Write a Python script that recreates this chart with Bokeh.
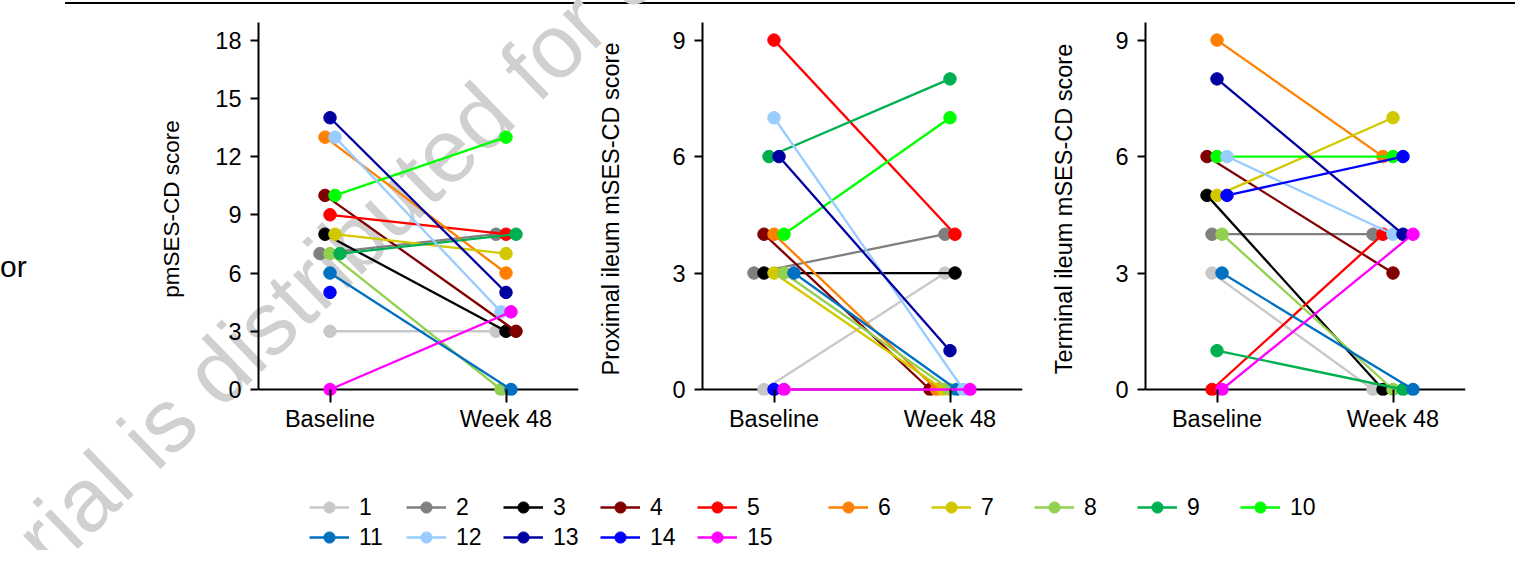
import math
from bokeh.plotting import figure
from bokeh.layouts import row, column
from bokeh.models import Range1d, FixedTicker, Span, Legend, LegendItem, Div
from bokeh.embed import file_html
from bokeh.resources import INLINE

# ---------------- data ----------------
patients = [str(i) for i in range(1, 16)]
timepoints = ["Baseline", "Week 48"]
colors = ["#c8c8c8", "#7f7f7f", "#000000", "#800000", "#ff0000", "#ff8000",
          "#d2c800", "#92d050", "#00b050", "#00ff00", "#0070c0", "#99ccff",
          "#0000a0", "#0000ff", "#ff00ff"]

pm_baseline = [3, 7, 8, 10, 9, 13, 8, 7, 7, 10, 6, 13, 14, 5, 0]
pm_week48 = [3, 8, 3, 3, 8, 6, 7, 0, 8, 13, 0, 4, 5, None, 4]
prox_baseline = [0, 3, 3, 4, 9, 4, 3, 3, 6, 4, 3, 7, 6, 0, 0]
prox_week48 = [3, 4, 3, 0, 4, 0, 0, 0, 8, 7, 0, 0, 1, None, 0]
term_baseline = [3, 4, 5, 6, 0, 9, 5, 4, 1, 6, 3, 6, 8, 5, 0]
term_week48 = [0, 4, 0, 3, 4, 6, 7, 0, 0, 6, 0, 4, 4, 6, 4]

pm_ticks = [0, 3, 6, 9, 12, 15, 18]
segment_ticks = [0, 3, 6, 9]

titles = ["pmSES-CD score", "Proximal ileum mSES-CD score", "Terminal ileum mSES-CD score"]
watermark_text = "rial is distributed for S"
edge_fragment = "or"

# ---------------- geometry / style ----------------
FONT = "Liberation Sans"
PX_PER_X = 176.0
X_START = -71.5 / PX_PER_X
FRAME_W, FRAME_H = 320, 373
X_END = X_START + FRAME_W / PX_PER_X
ZERO_FROM_BOTTOM = 6
TOP_ABOVE_ZERO = FRAME_H - ZERO_FROM_BOTTOM
TICKSPAN_PX = 349.4
BORDER_TOP, BORDER_BOTTOM = 22, 50
TOTAL_W, TOTAL_H = 1515, 550
ROW_H = BORDER_TOP + FRAME_H + BORDER_BOTTOM
DIV_W = 28

WM_LEFT, WM_BASELINE = 52, 574
WM_ANGLE = 44
WM_SIZE = 90
WM_COLOR = "#d0d0d0"


def dodge_offsets(values, step_px=10.0, max_span_px=40.0):
    offs = [0.0] * len(values)
    groups = {}
    for i, v in enumerate(values):
        if v is None:
            continue
        groups.setdefault(v, []).append(i)
    for v, idx in groups.items():
        n = len(idx)
        step = step_px if (n - 1) * step_px <= max_span_px else max_span_px / (n - 1)
        for k, i in enumerate(idx):
            offs[i] = (k - (n - 1) / 2.0) * step / PX_PER_X
    return offs


def make_panel(ylabel, base, wk, ticks, bl, br, label_standoff, title_size):
    u = TICKSPAN_PX / ticks[-1]
    y0, y1 = -ZERO_FROM_BOTTOM / u, TOP_ABOVE_ZERO / u
    p = figure(frame_width=FRAME_W, frame_height=FRAME_H,
               x_range=Range1d(X_START, X_END), y_range=Range1d(y0, y1),
               min_border_left=bl, min_border_right=br,
               min_border_top=BORDER_TOP, min_border_bottom=BORDER_BOTTOM,
               toolbar_location=None, tools="", output_backend="svg")
    p.outline_line_color = None
    p.grid.visible = False
    p.background_fill_alpha = 0
    p.border_fill_alpha = 0

    # x axis
    xa = p.xaxis[0]
    xa.ticker = FixedTicker(ticks=[0, 1])
    xa.major_label_overrides = {0: timepoints[0], 1: timepoints[1]}
    xa.axis_line_color = None
    xa.major_tick_in = ZERO_FROM_BOTTOM
    xa.major_tick_out = 7
    xa.major_tick_line_width = 2
    xa.major_tick_line_color = "black"
    xa.minor_tick_line_color = None
    xa.major_label_standoff = 3
    xa.major_label_text_font = FONT
    xa.major_label_text_font_size = "23.5px"
    xa.major_label_text_color = "black"

    p.add_layout(Span(location=0, dimension="width", line_color="black", line_width=2, level="underlay"))

    # y axis
    ya = p.yaxis[0]
    ya.ticker = FixedTicker(ticks=ticks)
    ya.bounds = (0, y1)
    ya.axis_line_width = 2
    ya.axis_line_color = "black"
    ya.major_tick_out = 8
    ya.major_tick_in = 0
    ya.major_tick_line_width = 2
    ya.major_tick_line_color = "black"
    ya.minor_tick_line_color = None
    ya.major_label_standoff = 9
    ya.major_label_text_font = FONT
    ya.major_label_text_font_size = "23.5px"
    ya.major_label_text_color = "black"
    ya.axis_label = ylabel
    ya.axis_label_text_font = FONT
    ya.axis_label_text_font_size = title_size
    ya.axis_label_text_font_style = "normal"
    ya.axis_label_text_color = "black"
    ya.axis_label_standoff = label_standoff

    ob = dodge_offsets(base)
    ow = dodge_offsets(wk)
    for i in range(len(patients)):
        b, w = base[i], wk[i]
        xs, ys = [0 + ob[i]], [b]
        if w is not None:
            xs.append(1 + ow[i])
            ys.append(w)
            p.line(xs, ys, line_color=colors[i], line_width=2.3)
        p.scatter(xs, ys, size=12.5, fill_color=colors[i], line_color=colors[i], line_width=1)
    return p


# frame left edges (page x) at 258, 702, 1145
f1 = make_panel(titles[0], pm_baseline, pm_week48, pm_ticks, 258 - DIV_W, 14, 28, "22.5px")
f2 = make_panel(titles[1], prox_baseline, prox_week48, segment_ticks, 110, 18, 45, "23.5px")
f3 = make_panel(titles[2], term_baseline, term_week48, segment_ticks, 105,
                TOTAL_W - 1145 - FRAME_W, 35, "23.5px")

# background layer: watermark of the source page, its top rule, and a cropped neighbouring text
baseline_in_box = 0.8465 * WM_SIZE
bg_html = (
    '<div style="position:absolute; left:0px; top:0px; width:%dpx; height:%dpx; overflow:hidden;'
    ' z-index:-1; pointer-events:none;">'
    '<div style="position:absolute; left:65px; top:2px; width:%dpx; height:2px; background:black;"></div>'
    '<span style="position:absolute; left:%dpx; top:%.1fpx; transform-origin:0px %.1fpx;'
    ' transform:rotate(-%ddeg); font-family:\'Liberation Sans\'; font-size:%dpx; line-height:%dpx;'
    ' color:%s; white-space:nowrap;">%s</span>'
    '</div>'
    '<span style="position:relative; top:252px; font-family:\'Liberation Sans\';'
    ' font-size:30px; line-height:30px; color:black; white-space:nowrap;">%s</span>'
) % (TOTAL_W, TOTAL_H, TOTAL_W - 65, WM_LEFT, WM_BASELINE - baseline_in_box, baseline_in_box,
     WM_ANGLE, WM_SIZE, WM_SIZE, WM_COLOR, watermark_text, edge_fragment)
frag = Div(text=bg_html, width=DIV_W, height=ROW_H, margin=(0, 0, 0, 0))

# ---------------- legend figure ----------------
LEG_H = TOTAL_H - ROW_H
leg = figure(width=TOTAL_W, height=LEG_H, x_range=Range1d(0, TOTAL_W), y_range=Range1d(TOTAL_H, ROW_H),
             x_axis_type=None, y_axis_type=None, toolbar_location=None, tools="",
             output_backend="svg", min_border=0)
leg.outline_line_color = None
leg.background_fill_alpha = 0
leg.border_fill_alpha = 0

items = []
for i in range(len(patients)):
    lr = leg.line([-100, -90], [500, 500], line_color=colors[i], line_width=2.3)
    sr = leg.scatter([-95], [500], size=12, fill_color=colors[i], line_color=colors[i])
    items.append(LegendItem(label=patients[i], renderers=[lr, sr]))


def make_legend(its, left, center_y, lw):
    bottom = TOTAL_H - (center_y + 14)
    return Legend(items=its, location=(left, bottom), orientation="horizontal", padding=0, margin=0,
                  spacing=15, glyph_width=40, glyph_height=28, label_standoff=10,
                  label_width=lw, label_height=28, label_text_font=FONT,
                  label_text_font_size="23px", label_text_color="black",
                  label_text_baseline="middle", border_line_color=None,
                  background_fill_alpha=0)


leg.add_layout(make_legend(items[0:5], 309, 507, 32))
leg.add_layout(make_legend(items[10:15], 309, 537, 32))
leg.add_layout(make_legend(items[5:10], 828, 507, 38))

layout = column(row(frag, f1, f2, f3), leg)
with open("out.html", "w") as fh:
    fh.write(file_html(layout, INLINE))
